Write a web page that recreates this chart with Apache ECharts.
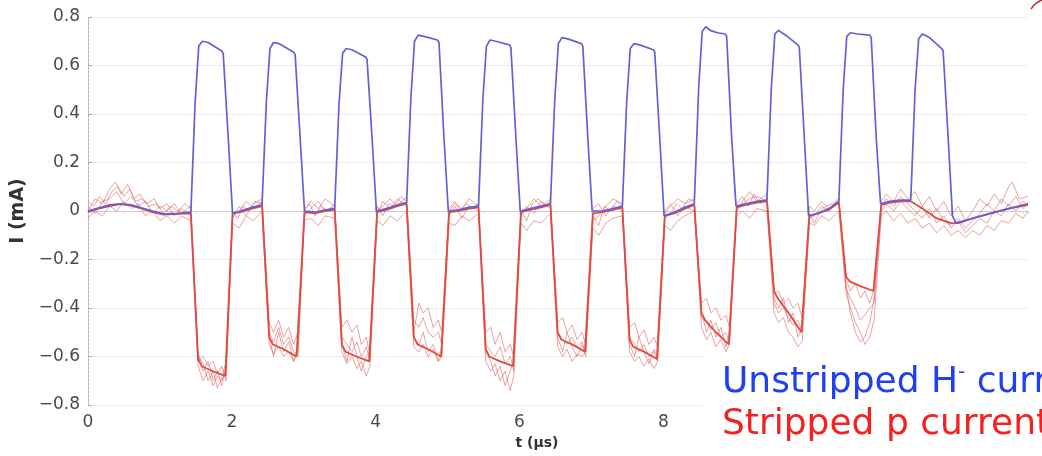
<!DOCTYPE html>
<html><head><meta charset="utf-8">
<script src="https://cdn.jsdelivr.net/npm/echarts@6/dist/echarts.min.js"></script>
<style>html,body{margin:0;padding:0;background:#fff}#c{width:1042px;height:456px}</style>
</head><body><div id="c"></div>
<script>
// Tick settings
const xTicks = { min: 0, max: 13.07, interval: 2 };
const yTicks = { min: -0.8, max: 0.8, interval: 0.2 };

// Unstripped H- current (blue) [t (us), I (mA)]
const hMinus = [
[0,0.0],[0.12,0.01],[0.3,0.025],[0.45,0.03],[0.6,0.025],[0.75,0.012],[0.9,0.0],[1.05,-0.012],[1.25,-0.01],[1.43,-0.005],
[1.49,0.45],[1.54,0.68],[1.59,0.70],[1.67,0.695],[1.86,0.66],[1.88,0.65],[1.95,0.3],[2.01,-0.01],
[2.12,0.0],[2.28,0.015],[2.42,0.025],
[2.48,0.45],[2.53,0.67],[2.58,0.695],[2.66,0.69],[2.86,0.655],[2.88,0.645],[2.95,0.3],[3.01,0.0],
[3.15,-0.005],[3.3,0.005],[3.43,0.01],
[3.49,0.44],[3.54,0.65],[3.59,0.67],[3.67,0.665],[3.86,0.635],[3.88,0.625],[3.95,0.3],[4.01,0.0],
[4.15,0.01],[4.3,0.025],[4.43,0.035],
[4.49,0.47],[4.54,0.7],[4.59,0.725],[4.67,0.72],[4.86,0.705],[4.88,0.695],[4.95,0.3],[5.01,0.0],
[5.15,0.005],[5.3,0.015],[5.43,0.02],
[5.49,0.46],[5.54,0.68],[5.59,0.705],[5.67,0.7],[5.86,0.685],[5.88,0.675],[5.95,0.3],[6.01,0.0],
[6.15,0.01],[6.3,0.02],[6.43,0.03],
[6.49,0.46],[6.54,0.69],[6.59,0.715],[6.67,0.71],[6.86,0.69],[6.88,0.68],[6.95,0.3],[7.01,0.0],
[7.15,0.0],[7.3,0.01],[7.43,0.02],
[7.49,0.45],[7.54,0.67],[7.59,0.69],[7.67,0.685],[7.86,0.665],[7.88,0.655],[7.95,0.3],[8.01,-0.02],
[8.15,-0.005],[8.3,0.015],[8.43,0.03],
[8.49,0.5],[8.54,0.74],[8.59,0.76],[8.65,0.745],[8.75,0.735],[8.86,0.73],[8.88,0.72],[8.95,0.3],[9.01,0.02],
[9.15,0.03],[9.3,0.04],[9.44,0.045],
[9.5,0.5],[9.55,0.73],[9.6,0.745],[9.7,0.725],[9.87,0.685],[9.89,0.675],[9.96,0.3],[10.02,-0.02],
[10.15,-0.01],[10.3,0.01],[10.44,0.04],
[10.5,0.5],[10.55,0.72],[10.6,0.735],[10.7,0.73],[10.87,0.725],[10.89,0.715],[10.96,0.3],[11.02,0.03],
[11.15,0.04],[11.3,0.045],[11.44,0.045],
[11.5,0.5],[11.55,0.71],[11.6,0.73],[11.7,0.715],[11.87,0.67],[11.89,0.66],[11.96,0.3],[12.02,-0.02],[12.07,-0.05],
[12.3,-0.03],[12.55,-0.01],[12.8,0.01],[13.07,0.03]
];

// Stripped p current, averaged trace (red, thick)
const pStripped = [
[0,-0.005],[0.12,0.008],[0.3,0.02],[0.45,0.028],[0.6,0.022],[0.75,0.01],[0.9,-0.005],[1.05,-0.015],[1.25,-0.012],[1.43,-0.01],
[1.53,-0.61],[1.58,-0.64],[1.73,-0.66],[1.91,-0.68],[2.01,-0.01],
[2.12,-0.005],[2.28,0.01],[2.42,0.02],
[2.52,-0.52],[2.57,-0.55],[2.72,-0.57],[2.9,-0.6],[3.01,-0.005],
[3.15,-0.01],[3.3,0.0],[3.43,0.005],
[3.53,-0.55],[3.58,-0.58],[3.73,-0.6],[3.91,-0.62],[4.02,-0.005],
[4.15,0.005],[4.3,0.02],[4.43,0.03],
[4.53,-0.52],[4.58,-0.55],[4.73,-0.57],[4.91,-0.6],[5.02,-0.005],
[5.15,0.0],[5.3,0.01],[5.43,0.015],
[5.53,-0.57],[5.58,-0.6],[5.73,-0.62],[5.91,-0.64],[6.02,-0.005],
[6.15,0.005],[6.3,0.015],[6.43,0.025],
[6.53,-0.5],[6.58,-0.53],[6.73,-0.55],[6.91,-0.58],[7.02,-0.01],
[7.15,-0.005],[7.3,0.005],[7.43,0.015],
[7.53,-0.53],[7.58,-0.56],[7.73,-0.58],[7.91,-0.61],[8.02,-0.02],
[8.15,-0.01],[8.3,0.01],[8.43,0.025],
[8.53,-0.42],[8.58,-0.45],[8.73,-0.5],[8.91,-0.55],[9.02,0.015],
[9.15,0.025],[9.3,0.035],[9.44,0.04],
[9.54,-0.33],[9.59,-0.36],[9.74,-0.42],[9.92,-0.5],[10.03,-0.02],
[10.15,-0.01],[10.3,0.005],[10.44,0.035],
[10.54,-0.27],[10.59,-0.29],[10.74,-0.31],[10.92,-0.33],[11.03,0.025],
[11.15,0.035],[11.3,0.04],[11.44,0.04],[11.6,0.01],[11.8,-0.03],[12.0,-0.05],[12.1,-0.05],[12.3,-0.03],[12.55,-0.01],[12.8,0.01],[13.07,0.025]
];

// Individual stripped p current shots (thin red)
const pShotA = [
[0,0.04],[0.08,0.02],[0.16,0.06],[0.25,0.03],[0.33,0.08],[0.42,0.1],[0.5,0.06],[0.58,0.09],[0.66,0.04],[0.75,0.05],[0.85,0.02],[0.95,0.03],[1.05,-0.01],[1.15,0.02],[1.25,0.0],[1.35,0.03],[1.43,0.01],
[1.53,-0.6],[1.6,-0.63],[1.67,-0.7],[1.74,-0.66],[1.8,-0.73],[1.86,-0.69],[1.92,-0.62],[2.01,0.0],
[2.08,-0.03],[2.16,0.02],[2.24,0.0],[2.32,0.04],[2.42,0.03],
[2.52,-0.52],[2.58,-0.6],[2.65,-0.5],[2.72,-0.58],[2.79,-0.54],[2.86,-0.62],[2.92,-0.55],[3.01,0.01],
[3.08,0.03],[3.16,-0.02],[3.24,0.02],[3.33,0.0],[3.43,0.03],
[3.53,-0.55],[3.6,-0.62],[3.67,-0.52],[3.74,-0.6],[3.8,-0.66],[3.87,-0.6],[3.92,-0.58],[4.02,0.02],
[4.1,-0.02],[4.18,0.03],[4.26,0.02],[4.35,0.06],[4.43,0.04],
[4.53,-0.5],[4.6,-0.38],[4.66,-0.42],[4.73,-0.4],[4.8,-0.48],[4.87,-0.45],[4.92,-0.5],[5.02,0.01],
[5.1,0.04],[5.18,0.0],[5.26,0.03],[5.35,0.01],[5.43,0.03],
[5.53,-0.58],[5.6,-0.62],[5.66,-0.68],[5.73,-0.64],[5.8,-0.72],[5.87,-0.66],[5.92,-0.62],[6.02,0.0],
[6.1,-0.04],[6.18,0.03],[6.26,0.05],[6.35,0.02],[6.43,0.04],
[6.53,-0.52],[6.6,-0.58],[6.66,-0.5],[6.73,-0.56],[6.8,-0.6],[6.87,-0.55],[6.92,-0.58],[7.02,-0.02],
[7.1,-0.06],[7.18,0.02],[7.26,0.0],[7.35,0.04],[7.43,0.02],
[7.53,-0.55],[7.6,-0.6],[7.66,-0.52],[7.73,-0.58],[7.8,-0.63],[7.87,-0.57],[7.92,-0.6],[8.02,-0.03],
[8.1,-0.01],[8.18,0.03],[8.26,0.01],[8.35,0.05],[8.43,0.04],
[8.53,-0.42],[8.6,-0.5],[8.66,-0.45],[8.73,-0.52],[8.8,-0.48],[8.87,-0.56],[8.92,-0.5],[9.02,0.03],
[9.1,0.06],[9.18,0.02],[9.26,0.07],[9.35,0.03],[9.44,0.05],
[9.54,-0.36],[9.6,-0.4],[9.67,-0.36],[9.74,-0.46],[9.8,-0.42],[9.87,-0.52],[9.93,-0.48],[10.03,-0.01],
[10.1,-0.05],[10.18,0.0],[10.26,0.02],[10.35,0.03],[10.44,0.05],
[10.54,-0.3],[10.6,-0.42],[10.67,-0.5],[10.74,-0.54],[10.8,-0.52],[10.87,-0.46],[10.93,-0.36],[11.03,0.02],
[11.1,0.05],[11.2,0.02],[11.3,0.06],[11.4,0.03],[11.5,0.0],[11.6,-0.03],[11.7,0.01],[11.8,-0.05],[11.9,-0.02],[12.0,-0.07],[12.1,-0.04],[12.2,-0.09],[12.3,-0.06],[12.4,-0.03],[12.5,-0.05],[12.6,0.0],[12.7,-0.02],[12.8,0.03],[12.9,0.0],[13.0,0.04],[13.07,0.02]
];
const pShotB = [
[0,0.0],[0.1,0.05],[0.2,0.03],[0.3,0.09],[0.38,0.12],[0.46,0.07],[0.55,0.11],[0.64,0.05],[0.72,0.07],[0.82,0.03],[0.92,0.05],[1.0,0.01],[1.1,0.03],[1.2,-0.02],[1.3,0.01],[1.43,-0.02],
[1.53,-0.58],[1.6,-0.66],[1.67,-0.62],[1.74,-0.7],[1.8,-0.66],[1.86,-0.72],[1.92,-0.64],[2.01,-0.03],
[2.1,0.02],[2.2,-0.02],[2.3,0.03],[2.42,0.05],
[2.52,-0.46],[2.58,-0.5],[2.65,-0.45],[2.72,-0.52],[2.79,-0.48],[2.86,-0.55],[2.92,-0.5],[3.01,-0.02],
[3.1,0.01],[3.2,0.04],[3.3,0.0],[3.43,0.02],
[3.53,-0.48],[3.6,-0.45],[3.67,-0.5],[3.74,-0.47],[3.8,-0.55],[3.87,-0.52],[3.92,-0.6],[4.02,-0.01],
[4.1,0.04],[4.2,0.01],[4.3,0.05],[4.43,0.02],
[4.53,-0.52],[4.6,-0.55],[4.66,-0.5],[4.73,-0.58],[4.8,-0.55],[4.87,-0.62],[4.92,-0.56],[5.02,-0.02],
[5.1,0.02],[5.2,-0.03],[5.3,0.02],[5.43,0.0],
[5.53,-0.5],[5.6,-0.48],[5.66,-0.55],[5.73,-0.5],[5.8,-0.58],[5.87,-0.55],[5.92,-0.6],[6.02,-0.02],
[6.1,0.02],[6.2,-0.01],[6.3,0.04],[6.43,0.01],
[6.53,-0.46],[6.6,-0.44],[6.66,-0.5],[6.73,-0.47],[6.8,-0.53],[6.87,-0.5],[6.92,-0.55],[7.02,0.01],
[7.1,0.03],[7.2,-0.02],[7.3,0.02],[7.43,0.0],
[7.53,-0.48],[7.6,-0.46],[7.66,-0.52],[7.73,-0.49],[7.8,-0.55],[7.87,-0.52],[7.92,-0.56],[8.02,0.0],
[8.1,0.03],[8.2,-0.02],[8.3,0.02],[8.43,0.0],
[8.53,-0.38],[8.6,-0.36],[8.66,-0.42],[8.73,-0.4],[8.8,-0.45],[8.87,-0.43],[8.92,-0.48],[9.02,0.0],
[9.1,0.04],[9.2,0.08],[9.3,0.04],[9.44,0.07],
[9.54,-0.34],[9.6,-0.33],[9.67,-0.38],[9.74,-0.36],[9.8,-0.4],[9.87,-0.38],[9.93,-0.44],[10.03,0.02],
[10.1,0.0],[10.2,0.04],[10.3,0.01],[10.44,0.03],
[10.54,-0.28],[10.6,-0.33],[10.67,-0.3],[10.74,-0.36],[10.8,-0.33],[10.87,-0.38],[10.93,-0.32],[11.03,0.04],
[11.1,0.07],[11.2,0.04],[11.3,0.09],[11.4,0.05],[11.5,0.08],[11.6,0.02],[11.7,0.06],[11.8,0.0],[11.9,0.04],[12.0,-0.02],[12.1,0.02],[12.2,-0.04],[12.3,0.0],[12.4,0.05],[12.5,0.02],[12.6,0.07],[12.7,0.03],[12.8,0.1],[12.85,0.12],[12.95,0.05],[13.07,0.06]
];
const pShotC = [
[0,-0.03],[0.1,0.0],[0.2,-0.02],[0.3,0.02],[0.4,0.0],[0.5,0.04],[0.6,0.01],[0.7,0.03],[0.8,-0.02],[0.9,0.0],[1.0,-0.04],[1.1,-0.02],[1.2,-0.05],[1.3,-0.02],[1.43,-0.04],
[1.53,-0.64],[1.6,-0.7],[1.67,-0.66],[1.74,-0.72],[1.8,-0.68],[1.86,-0.7],[1.92,-0.66],[2.01,-0.05],
[2.1,-0.07],[2.2,-0.02],[2.3,-0.04],[2.42,0.0],
[2.52,-0.55],[2.58,-0.59],[2.65,-0.56],[2.72,-0.6],[2.79,-0.58],[2.86,-0.62],[2.92,-0.58],[3.01,-0.04],
[3.1,-0.03],[3.2,-0.06],[3.3,-0.02],[3.43,-0.03],
[3.53,-0.58],[3.6,-0.63],[3.67,-0.6],[3.74,-0.65],[3.8,-0.62],[3.87,-0.68],[3.92,-0.64],[4.02,-0.04],
[4.1,-0.06],[4.2,-0.02],[4.3,-0.04],[4.43,0.0],
[4.53,-0.56],[4.6,-0.58],[4.66,-0.55],[4.73,-0.6],[4.8,-0.57],[4.87,-0.62],[4.92,-0.6],[5.02,-0.05],
[5.1,-0.06],[5.2,-0.02],[5.3,-0.04],[5.43,-0.01],
[5.53,-0.62],[5.6,-0.66],[5.66,-0.63],[5.73,-0.7],[5.8,-0.66],[5.87,-0.74],[5.92,-0.68],[6.02,-0.05],
[6.1,-0.08],[6.2,-0.04],[6.3,-0.05],[6.43,-0.01],
[6.53,-0.56],[6.6,-0.6],[6.66,-0.57],[6.73,-0.62],[6.8,-0.59],[6.87,-0.6],[6.92,-0.58],[7.02,-0.07],
[7.1,-0.1],[7.2,-0.05],[7.3,-0.03],[7.43,-0.02],
[7.53,-0.58],[7.6,-0.62],[7.66,-0.6],[7.73,-0.64],[7.8,-0.61],[7.87,-0.65],[7.92,-0.62],[8.02,-0.06],
[8.1,-0.08],[8.2,-0.04],[8.3,-0.02],[8.43,0.0],
[8.53,-0.48],[8.6,-0.53],[8.66,-0.5],[8.73,-0.56],[8.8,-0.53],[8.87,-0.58],[8.92,-0.55],[9.02,-0.02],
[9.1,0.0],[9.2,-0.03],[9.3,0.01],[9.44,0.0],
[9.54,-0.42],[9.6,-0.46],[9.67,-0.44],[9.74,-0.5],[9.8,-0.52],[9.87,-0.56],[9.93,-0.54],[10.03,-0.05],
[10.1,-0.06],[10.2,-0.02],[10.3,-0.04],[10.44,0.0],
[10.54,-0.34],[10.6,-0.4],[10.67,-0.46],[10.74,-0.5],[10.8,-0.55],[10.87,-0.52],[10.93,-0.45],[11.03,-0.02],
[11.1,0.0],[11.2,-0.04],[11.3,-0.01],[11.4,-0.05],[11.5,-0.03],[11.6,-0.07],[11.7,-0.05],[11.8,-0.09],[11.9,-0.06],[12.0,-0.1],[12.1,-0.08],[12.2,-0.11],[12.3,-0.08],[12.4,-0.1],[12.5,-0.06],[12.6,-0.08],[12.7,-0.04],[12.8,-0.05],[12.9,-0.01],[13.0,-0.03],[13.07,0.0]
];
const pShotD = [
[0,0.02],[0.1,-0.01],[0.2,0.04],[0.3,0.05],[0.4,0.08],[0.5,0.03],[0.6,0.06],[0.7,0.02],[0.8,0.04],[0.9,-0.01],[1.0,0.02],[1.1,0.0],[1.2,0.03],[1.3,-0.01],[1.43,0.02],
[1.53,-0.62],[1.6,-0.6],[1.67,-0.64],[1.74,-0.62],[1.8,-0.67],[1.86,-0.64],[1.92,-0.7],[2.01,-0.02],
[2.1,0.0],[2.2,0.04],[2.3,0.01],[2.42,0.04],
[2.52,-0.5],[2.58,-0.54],[2.65,-0.48],[2.72,-0.55],[2.79,-0.52],[2.86,-0.58],[2.92,-0.6],[3.01,0.0],
[3.1,0.04],[3.2,0.01],[3.3,0.05],[3.43,0.02],
[3.53,-0.52],[3.6,-0.55],[3.67,-0.58],[3.74,-0.54],[3.8,-0.6],[3.87,-0.56],[3.92,-0.62],[4.02,0.0],
[4.1,0.02],[4.2,0.05],[4.3,0.02],[4.43,0.06],
[4.53,-0.45],[4.6,-0.48],[4.66,-0.44],[4.73,-0.5],[4.8,-0.52],[4.87,-0.5],[4.92,-0.55],[5.02,0.0],
[5.1,0.03],[5.2,0.01],[5.3,0.05],[5.43,0.02],
[5.53,-0.55],[5.6,-0.58],[5.66,-0.6],[5.73,-0.56],[5.8,-0.63],[5.87,-0.6],[5.92,-0.66],[6.02,-0.01],
[6.1,0.01],[6.2,0.05],[6.3,0.02],[6.43,0.05],
[6.53,-0.5],[6.6,-0.53],[6.66,-0.55],[6.73,-0.52],[6.8,-0.56],[6.87,-0.54],[6.92,-0.6],[7.02,-0.04],
[7.1,-0.02],[7.2,0.02],[7.3,0.05],[7.43,0.03],
[7.53,-0.52],[7.6,-0.55],[7.66,-0.58],[7.73,-0.55],[7.8,-0.6],[7.87,-0.58],[7.92,-0.62],[8.02,-0.01],
[8.1,0.02],[8.2,0.05],[8.3,0.03],[8.43,0.05],
[8.53,-0.44],[8.6,-0.46],[8.66,-0.49],[8.73,-0.46],[8.8,-0.52],[8.87,-0.5],[8.92,-0.54],[9.02,0.01],
[9.1,0.03],[9.2,0.05],[9.3,0.06],[9.44,0.04],
[9.54,-0.38],[9.6,-0.42],[9.67,-0.4],[9.74,-0.44],[9.8,-0.47],[9.87,-0.45],[9.93,-0.5],[10.03,-0.03],
[10.1,-0.02],[10.2,0.02],[10.3,0.0],[10.44,0.04],
[10.54,-0.32],[10.6,-0.36],[10.67,-0.4],[10.74,-0.45],[10.8,-0.43],[10.87,-0.4],[10.93,-0.38],[11.03,0.0],
[11.1,0.03],[11.2,0.0],[11.3,0.04],[11.4,0.01],[11.5,-0.02],[11.6,0.02],[11.7,-0.03],[11.8,0.01],[11.9,-0.04],[12.0,-0.06],[12.1,-0.03],[12.2,-0.07],[12.3,-0.04],[12.4,-0.01],[12.5,0.03],[12.6,0.0],[12.7,0.05],[12.8,0.02],[12.9,0.06],[13.0,0.01],[13.07,0.03]
];

const legendLine1 = ['Unstripped H', '-', ' current'];
const legendLine2 = 'Stripped p current';
const xName = 't (\u00b5s)';
const yName = 'I (mA)';

const chart = echarts.init(document.getElementById('c'), null, { renderer: 'canvas' });
const labelFont = { fontFamily: 'DejaVu Sans', fontSize: 17, color: '#4a4a4a' };
const fmtY = v => Math.abs(v) < 1e-9 ? '0' : (v < 0 ? '\u2212' : '') + Math.abs(v).toFixed(1);
const thin = (d) => ({ type: 'line', data: d, showSymbol: false, silent: true, z: 2,
  lineStyle: { width: 1, color: 'rgba(222,100,95,0.6)' } });
const BLUE = '#1f3ff5', RED = '#f52020';

chart.setOption({
  animation: false,
  backgroundColor: '#fff',
  grid: { left: 88, right: 14, top: 17, bottom: 51, containLabel: false },
  xAxis: [{
    type: 'value', min: xTicks.min, max: xTicks.max, interval: xTicks.interval,
    name: xName, nameLocation: 'middle', nameGap: 27,
    nameTextStyle: { fontFamily: 'DejaVu Sans', fontSize: 14, fontWeight: 'bold', color: '#333', padding: [0, 42, 0, 0] },
    axisLine: { lineStyle: { color: '#b8b8b8', width: 1 } },
    axisTick: { inside: true, length: 4, lineStyle: { color: '#b8b8b8' } },
    axisLabel: Object.assign({ margin: 9, showMaxLabel: false, formatter: v => String(v) }, labelFont),
    splitLine: { show: false }
  }, {
    type: 'value', position: 'top', min: xTicks.min, max: xTicks.max, interval: 0.5,
    axisLine: { lineStyle: { color: '#cfcfcf', width: 1 } },
    axisTick: { inside: true, length: 3, lineStyle: { color: '#d8d8d8' } },
    axisLabel: { show: false }, splitLine: { show: false }
  }],
  yAxis: [{
    type: 'value', min: yTicks.min, max: yTicks.max, interval: yTicks.interval,
    name: yName, nameLocation: 'middle', nameGap: 47,
    nameTextStyle: { fontFamily: 'DejaVu Sans', fontSize: 19, fontWeight: 'bold', color: '#333' },
    axisLine: { lineStyle: { color: '#a8a8a8', width: 1, type: [2, 2] } },
    axisTick: { inside: true, length: 4, lineStyle: { color: '#a8a8a8' } },
    axisLabel: Object.assign({ margin: 8, formatter: fmtY }, labelFont),
    splitLine: { show: true, lineStyle: { color: '#ececec', width: 1 } }
  }, {
    type: 'value', position: 'right', min: yTicks.min, max: yTicks.max, interval: yTicks.interval,
    axisLine: { show: true, lineStyle: { color: '#b0b0b0', width: 1, type: [2, 2] } },
    axisTick: { show: false }, axisLabel: { show: false }, splitLine: { show: false }
  }],
  series: [
    thin(pShotA), thin(pShotB), thin(pShotC), thin(pShotD),
    { type: 'line', data: pStripped, showSymbol: false, silent: true, z: 3,
      lineStyle: { width: 1.8, color: '#df4a42' } },
    { type: 'line', data: hMinus, showSymbol: false, silent: true, z: 4,
      lineStyle: { width: 1.7, color: '#6060d8' } }
  ],
  graphic: [
    { type: 'rect', z: 100, shape: { x: 703, y: 352, width: 339, height: 104 }, style: { fill: '#fff' } },
    { type: 'text', z: 101, x: 722, y: 383, style: {
        text: '{a|' + legendLine1[0] + '}{s|' + legendLine1[1] + '}{a|' + legendLine1[2] + '}',
        verticalAlign: 'middle',
        rich: {
          a: { fontFamily: 'DejaVu Sans', fontSize: 36, fill: BLUE, lineHeight: 40 },
          s: { fontFamily: 'DejaVu Sans', fontSize: 20, fill: BLUE, lineHeight: 20, verticalAlign: 'top' }
        } } },
    { type: 'text', z: 101, x: 722, y: 425, style: {
        text: legendLine2, font: '36px "DejaVu Sans"', fill: RED, verticalAlign: 'middle' } },
    { type: 'polyline', z: 101, shape: { points: [[1031, 9], [1034, 5], [1038, 2], [1042, 0]] },
      style: { stroke: '#a83030', lineWidth: 1.5, fill: null } }
  ]
});
</script>
</body></html>
